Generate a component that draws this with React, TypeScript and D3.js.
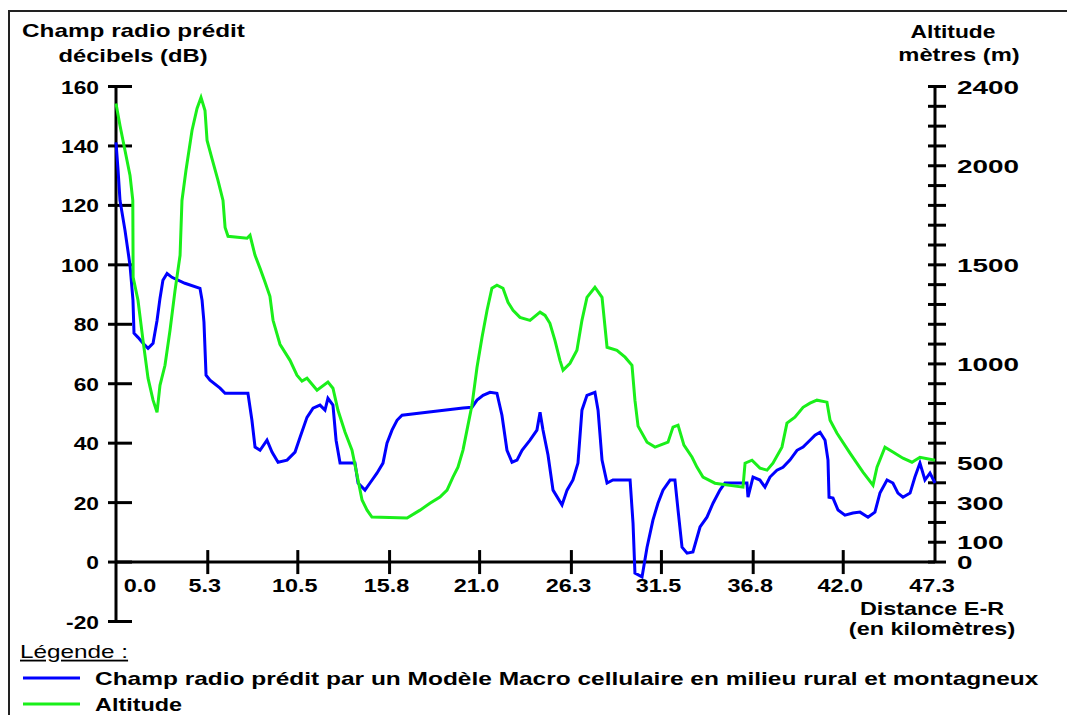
import * as d3 from "d3";

// Champ radio prédit (dB) le long du profil
const fieldKm = [0, 0.12, 0.23, 0.52, 0.81, 0.98, 1.04, 1.27, 1.56, 1.85, 2.14, 2.37, 2.54, 2.71, 2.95, 3.23, 3.98, 4.85, 4.97, 5.08, 5.2, 5.43, 6.01, 6.3, 7.62, 7.85, 8.03, 8.32, 8.72, 9.01, 9.36, 9.88, 10.34, 10.63, 11.03, 11.38, 11.78, 12.07, 12.24, 12.53, 12.71, 12.94, 13.8, 13.98, 14.38, 14.67, 15.07, 15.42, 15.65, 15.94, 16.23, 16.52, 17.96, 20.04, 20.56, 20.85, 21.2, 21.6, 22.0, 22.29, 22.58, 22.87, 23.16, 23.45, 23.91, 24.31, 24.49, 24.66, 24.95, 25.24, 25.76, 26.05, 26.39, 26.68, 26.91, 27.2, 27.66, 27.84, 28.07, 28.36, 28.7, 29.69, 29.86, 29.97, 30.38, 30.67, 31.01, 31.3, 31.59, 32.0, 32.28, 32.46, 32.69, 32.98, 33.32, 33.73, 34.13, 34.48, 34.88, 35.17, 36.44, 36.5, 36.79, 37.19, 37.48, 37.77, 38.17, 38.52, 38.92, 39.33, 39.68, 40.08, 40.37, 40.66, 40.95, 41.12, 41.18, 41.41, 41.7, 42.1, 42.56, 42.97, 43.43, 43.83, 44.12, 44.53, 44.87, 45.16, 45.45, 45.86, 46.14, 46.43, 46.72, 47.01, 47.3];
const fieldDb = [141.2, 131.8, 121.7, 111.6, 99.8, 88.1, 77.0, 75.6, 73.6, 71.9, 73.6, 81.3, 88.7, 94.8, 97.1, 95.8, 93.8, 92.1, 88.1, 80.7, 62.9, 61.2, 58.5, 56.8, 56.8, 47.7, 38.7, 37.6, 41.0, 37.0, 33.6, 34.3, 37.0, 42.0, 48.7, 51.8, 52.8, 51.1, 55.1, 52.8, 41.0, 33.3, 33.3, 26.6, 24.2, 26.6, 29.9, 33.3, 40.0, 44.4, 47.7, 49.4, 50.4, 51.8, 52.1, 54.5, 56.1, 57.1, 56.8, 49.4, 37.6, 33.6, 34.3, 37.6, 41.0, 44.4, 50.4, 44.4, 36.0, 24.2, 19.2, 24.2, 27.6, 33.3, 51.1, 56.1, 57.1, 51.1, 34.3, 26.6, 27.6, 27.6, 13.1, -3.7, -5.0, 5.0, 14.1, 19.8, 24.2, 27.6, 27.6, 17.5, 5.0, 3.0, 3.4, 11.8, 15.1, 19.8, 24.2, 26.6, 26.6, 21.8, 28.6, 27.6, 25.2, 28.6, 30.9, 31.9, 34.3, 37.6, 38.7, 41.0, 42.7, 43.7, 41.0, 34.3, 21.8, 21.5, 17.5, 15.8, 16.5, 16.8, 15.1, 16.8, 23.2, 27.6, 26.6, 23.2, 21.8, 23.2, 28.6, 33.3, 27.6, 29.9, 26.6];

// Altitude (m) le long du profil
const altKm = [0, 0.23, 0.52, 0.81, 0.97, 0.99, 1.27, 1.56, 1.85, 2.14, 2.37, 2.54, 2.83, 3.12, 3.41, 3.7, 3.81, 4.04, 4.39, 4.68, 4.91, 5.14, 5.26, 5.54, 5.89, 6.18, 6.3, 6.47, 7.57, 7.74, 8.03, 8.32, 8.61, 8.89, 9.07, 9.47, 10.05, 10.45, 10.74, 11.03, 11.61, 12.24, 12.53, 12.82, 13.23, 13.63, 13.92, 14.21, 14.5, 14.78, 16.81, 17.56, 18.13, 18.71, 19.12, 19.46, 19.75, 20.04, 20.27, 20.56, 20.85, 21.14, 21.43, 21.71, 22.0, 22.35, 22.64, 22.93, 23.33, 23.91, 24.49, 24.78, 25.06, 25.35, 25.64, 25.82, 26.22, 26.62, 26.91, 27.2, 27.66, 28.07, 28.36, 28.93, 29.4, 29.8, 29.97, 30.15, 30.67, 31.13, 31.88, 32.17, 32.46, 32.8, 33.27, 33.55, 33.9, 34.59, 36.21, 36.33, 36.73, 37.19, 37.6, 37.94, 38.46, 38.75, 39.21, 39.68, 40.08, 40.48, 41.06, 41.24, 41.64, 42.39, 43.14, 43.72, 43.95, 44.41, 44.87, 45.45, 45.97, 46.43, 47.3];
const altM = [2314, 2203, 2077, 1951, 1825, 1437, 1321, 1119, 928, 817, 756, 892, 993, 1170, 1371, 1548, 1825, 1976, 2178, 2289, 2345, 2279, 2128, 2037, 1926, 1825, 1689, 1644, 1634, 1649, 1548, 1482, 1412, 1341, 1220, 1099, 1018, 943, 913, 928, 867, 908, 877, 766, 655, 565, 439, 313, 262, 227, 222, 262, 297, 328, 363, 429, 479, 565, 666, 792, 983, 1134, 1271, 1382, 1397, 1382, 1311, 1271, 1235, 1220, 1261, 1245, 1205, 1119, 1018, 968, 1003, 1069, 1220, 1336, 1387, 1336, 1084, 1069, 1034, 993, 817, 686, 605, 580, 605, 681, 691, 590, 529, 479, 429, 398, 378, 499, 514, 474, 464, 499, 580, 701, 731, 781, 802, 817, 807, 716, 650, 550, 454, 388, 479, 580, 555, 524, 504, 529, 514];

const xLabels = ["0.0", "5.3", "10.5", "15.8", "21.0", "26.3", "31.5", "36.8", "42.0", "47.3"];
const xTickVals = [5.3, 10.5, 15.8, 21.0, 26.3, 31.5, 36.8, 42.0];
const dbTicks = [-20, 0, 20, 40, 60, 80, 100, 120, 140, 160];
const altLabels = [0, 100, 300, 500, 1000, 1500, 2000, 2400];
const altTicks = d3.range(0, 2401, 100);

const FONT = "'Liberation Sans', Arial, sans-serif";

function T({ x, y, text, sx = 1.25, size = 19, anchor = "middle", weight = "bold", underline = false }: any) {
  return (
    <text
      transform={`translate(${x},${y}) scale(${sx},1)`}
      textAnchor={anchor}
      fontSize={size}
      fontWeight={weight}
      fontFamily={FONT}
      textDecoration={underline ? "underline" : undefined}
      fill="#000"
    >
      {text}
    </text>
  );
}

export default function App() {
  const x = d3.scaleLinear().domain([0, 47.3]).range([116, 935]);
  const yDb = d3.scaleLinear().domain([-20, 160]).range([621.5, 86.5]);
  const yAlt = d3.scaleLinear().domain([0, 2400]).range([yDb(0), yDb(160)]);

  const fieldLine = d3
    .line<number>()
    .x((_, i) => x(fieldKm[i]))
    .y((d) => yDb(d));
  const altLine = d3
    .line<number>()
    .x((_, i) => x(altKm[i]))
    .y((d) => yAlt(d));

  const x0 = x(0);
  const x1 = x(47.3);
  const y0 = yDb(0);

  return (
    <svg
      width={1067}
      height={715}
      style={{ position: "absolute", left: 0, top: 0, background: "#fff" }}
    >
      {/* cadre */}
      <path d="M9,715 V11 H1067" fill="none" stroke="#222" strokeWidth={2} />

      {/* titres */}
      <T x={22} y={37} text="Champ radio prédit" anchor="start" sx={1.28} />
      <T x={133} y={62} text="décibels (dB)" />
      <T x={953} y={38} text="Altitude" sx={1.2} />
      <T x={959} y={61} text="mètres (m)" />

      {/* axe gauche */}
      <line x1={x0} x2={x0} y1={yDb(160)} y2={yDb(-20)} stroke="#000" strokeWidth={3} />
      {dbTicks.map((v) => (
        <g key={"l" + v}>
          <line x1={x0 - 8} x2={x0 + 16} y1={yDb(v)} y2={yDb(v)} stroke="#000" strokeWidth={3} />
          <T x={99} y={yDb(v) + 7} text={String(v)} anchor="end" sx={1.2} />
        </g>
      ))}

      {/* axe droit */}
      <line x1={x1} x2={x1} y1={yAlt(2400)} y2={yAlt(0)} stroke="#000" strokeWidth={3} />
      {altTicks.map((v) => (
        <line key={"r" + v} x1={x1 - 7} x2={x1 + 11} y1={yAlt(v)} y2={yAlt(v)} stroke="#000" strokeWidth={3} />
      ))}
      {altLabels.map((v) => (
        <T key={"rl" + v} x={957} y={yAlt(v) + 7} text={String(v)} anchor="start" sx={1.47} />
      ))}

      {/* axe des distances */}
      <line x1={x0} x2={x1} y1={y0} y2={y0} stroke="#000" strokeWidth={3} />
      {xTickVals.map((v) => (
        <line key={"t" + v} x1={x(v)} x2={x(v)} y1={y0 - 12} y2={y0 + 12} stroke="#000" strokeWidth={3} />
      ))}
      {xLabels.map((s, i) => (
        <T
          key={"x" + s}
          x={i === 0 ? x(0) + 24 : x(+s) - 3}
          y={592}
          text={s}
          size={18}
          sx={1.3}
        />
      ))}
      <T x={932} y={615} text="Distance E-R" size={18} sx={1.3} />
      <T x={932} y={635} text="(en kilomètres)" size={18} sx={1.3} />

      {/* courbes */}
      <path d={fieldLine(fieldDb) || ""} fill="none" stroke="#0000ff" strokeWidth={3} strokeLinejoin="miter" />
      <path d={altLine(altM) || ""} fill="none" stroke="#1aef1a" strokeWidth={3} strokeLinejoin="miter" />

      {/* légende */}
      <T x={20} y={658} text="Légende :" anchor="start" weight="normal" size={18} sx={1.35} underline />
      <line x1={23} x2={80} y1={678} y2={678} stroke="#0000ff" strokeWidth={3} />
      <T
        x={95}
        y={685}
        text="Champ radio prédit par un Modèle Macro cellulaire en milieu rural et montagneux"
        anchor="start"
        size={18}
        sx={1.36}
      />
      <line x1={23} x2={80} y1={704} y2={704} stroke="#1aef1a" strokeWidth={3} />
      <T x={95} y={711} text="Altitude" anchor="start" size={18} sx={1.3} />
    </svg>
  );
}
